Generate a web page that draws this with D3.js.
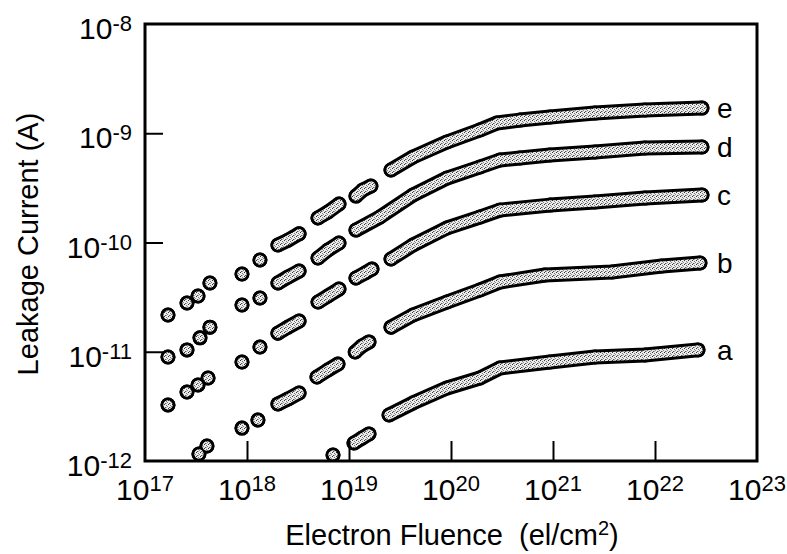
<!DOCTYPE html>
<html lang="en">
<head>
  <meta charset="UTF-8">
  <title>Leakage Current vs Electron Fluence</title>
  <style>
    html,
    body {
      margin: 0;
      background: #fff;
    }

    svg {
      display: block;
      font-family: 'Liberation Sans', Arial, Helvetica, sans-serif;
    }
  </style>
  <script src="https://cdn.jsdelivr.net/npm/d3@7"></script>
</head>
<body>
  <script>
    const width = 787
    const height = 554
    const margin = { left: 145, right: 30, top: 24, bottom: 93 }

    // tick decades
    const xTickExp = [17, 18, 19, 20, 21, 22, 23]
    const yTickExp = [-8, -9, -10, -11, -12]

    // curves: [fluence el/cm2, current A], null = gap between runs of points
    const curveA = [
      [6.97e18, 1.135e-12], null,
      [1.12e19, 1.46e-12], [1.34e19, 1.62e-12], [1.57e19, 1.77e-12], null,
      [2.47e19, 2.64e-12], [4.24e19, 3.40e-12], [9.14e19, 4.66e-12], [1.92e20, 5.75e-12], [3.02e20, 7.10e-12],
      [9.35e20, 8.05e-12], [2.58e21, 8.95e-12], [7.98e21, 9.34e-12], [2.64e22, 1.04e-11]
    ]
    const curveB = [
      [3.38e17, 1.16e-12], null,
      [4.05e17, 1.37e-12], null,
      [8.93e17, 2.00e-12], null,
      [1.28e18, 2.37e-12], null,
      [2.01e18, 3.33e-12], [2.52e18, 3.69e-12], [3.24e18, 4.19e-12], null,
      [4.85e18, 5.87e-12], [6.22e18, 6.81e-12], [7.80e18, 7.72e-12], null,
      [1.15e19, 9.95e-12], [1.34e19, 1.13e-11], [1.57e19, 1.23e-11], null,
      [2.58e19, 1.68e-11], [4.24e19, 2.17e-11], [9.14e19, 2.85e-11], [1.92e20, 3.67e-11], [3.02e20, 4.35e-11],
      [8.36e20, 5.04e-11], [3.78e21, 5.37e-11], [1.17e22, 6.09e-11], [2.76e22, 6.49e-11]
    ]
    const curveC = [
      [1.68e17, 3.26e-12], null,
      [2.58e17, 4.28e-12], null,
      [3.31e17, 4.96e-12], null,
      [4.15e17, 5.75e-12], null,
      [8.93e17, 8.05e-12], null,
      [1.34e18, 1.105e-11], null,
      [2.01e18, 1.48e-11], [2.52e18, 1.68e-11], [3.24e18, 1.91e-11], null,
      [4.97e18, 2.85e-11], [6.22e18, 3.24e-11], [7.98e18, 3.75e-11], null,
      [1.17e19, 4.73e-11], [1.44e19, 5.26e-11], [1.68e19, 5.72e-11], null,
      [2.58e19, 7.06e-11], [4.24e19, 9.49e-11], [9.14e19, 1.36e-10], [1.92e20, 1.71e-10], [3.02e20, 1.98e-10],
      [9.35e20, 2.20e-10], [2.58e21, 2.35e-10], [7.98e21, 2.55e-10], [2.89e22, 2.72e-10]
    ]
    const curveD = [
      [1.68e17, 8.95e-12], null,
      [2.58e17, 1.04e-11], null,
      [3.46e17, 1.34e-11], null,
      [4.33e17, 1.68e-11], null,
      [8.93e17, 2.68e-11], null,
      [1.34e18, 3.10e-11], null,
      [2.01e18, 4.26e-11], [2.52e18, 4.83e-11], [3.24e18, 5.48e-11], null,
      [4.97e18, 7.21e-11], [6.22e18, 8.54e-11], [7.98e18, 9.89e-11], null,
      [1.17e19, 1.30e-10], [2.01e19, 1.71e-10], [4.24e19, 2.72e-10], [9.14e19, 3.89e-10], [1.92e20, 4.91e-10],
      [3.02e20, 5.69e-10], [4.74e20, 5.93e-10], [9.35e20, 6.32e-10], [2.58e21, 6.73e-10], [7.98e21, 7.33e-10],
      [2.89e22, 7.48e-10]
    ]
    const curveE = [
      [1.68e17, 2.17e-11], null,
      [2.58e17, 2.79e-11], null,
      [3.31e17, 3.24e-11], null,
      [4.33e17, 4.26e-11], null,
      [8.93e17, 5.15e-11], null,
      [1.34e18, 6.92e-11], null,
      [2.01e18, 9.49e-11], [2.52e18, 1.05e-10], [3.24e18, 1.20e-10], null,
      [4.97e18, 1.68e-10], [6.22e18, 1.90e-10], [7.98e18, 2.25e-10], null,
      [1.17e19, 2.66e-10], [1.37e19, 3.03e-10], [1.64e19, 3.29e-10], null,
      [2.58e19, 4.61e-10], [4.24e19, 6.06e-10], [9.14e19, 8.32e-10], [1.92e20, 1.07e-9], [2.82e20, 1.24e-9],
      [4.74e20, 1.32e-9], [9.35e20, 1.41e-9], [2.58e21, 1.53e-9], [7.98e21, 1.63e-9], [2.89e22, 1.70e-9]
    ]
    const curveNames = ['a', 'b', 'c', 'd', 'e']
    const curves = [curveA, curveB, curveC, curveD, curveE]

    const svg = d3.select('body').append('svg')
      .attr('width', width)
      .attr('height', height)

    const innerW = width - margin.left - margin.right
    const innerH = height - margin.top - margin.bottom

    const xScale = d3.scaleLog().domain([1e17, 1e23]).range([margin.left, margin.left + innerW])
    const yScale = d3.scaleLog().domain([1e-12, 1e-8]).range([margin.top + innerH, margin.top])

    // speckled fill used inside the markers
    const defs = svg.append('defs')
    const pat = defs.append('pattern')
      .attr('id', 'speck')
      .attr('patternUnits', 'userSpaceOnUse')
      .attr('width', 4).attr('height', 4)
    pat.append('rect').attr('width', 4).attr('height', 4).attr('fill', '#ececec')
    const specks = [[0, 0, '#333'], [2, 1, '#777'], [1, 3, '#555'], [3, 2, '#8a8a8a'], [2, 3, '#aaa']]
    specks.forEach(s => pat.append('rect').attr('x', s[0]).attr('y', s[1])
      .attr('width', 1).attr('height', 1).attr('fill', s[2]))

    defs.append('clipPath').attr('id', 'plotClip')
      .append('rect')
      .attr('x', margin.left).attr('y', margin.top)
      .attr('width', innerW).attr('height', innerH)

    const line = d3.line()
      .defined(d => d)
      .x(d => xScale(d[0]))
      .y(d => yScale(d[1]))

    const plot = svg.append('g').attr('clip-path', 'url(#plotClip)')

    curves.forEach(curve => {
      const pts = curve.filter(d => d)
      const g = plot.append('g')
      // black outline
      g.append('path')
        .attr('d', line(curve))
        .attr('fill', 'none')
        .attr('stroke', '#000')
        .attr('stroke-width', 15)
        .attr('stroke-linecap', 'round')
        .attr('stroke-linejoin', 'round')
      g.selectAll('.outer').data(pts).enter().append('circle')
        .attr('cx', d => xScale(d[0]))
        .attr('cy', d => yScale(d[1]))
        .attr('r', 7.5)
        .attr('fill', '#000')
      // speckled inside
      g.append('path')
        .attr('d', line(curve))
        .attr('fill', 'none')
        .attr('stroke', 'url(#speck)')
        .attr('stroke-width', 9)
        .attr('stroke-linecap', 'round')
        .attr('stroke-linejoin', 'round')
      g.selectAll('.inner').data(pts).enter().append('circle')
        .attr('cx', d => xScale(d[0]))
        .attr('cy', d => yScale(d[1]))
        .attr('r', 4.5)
        .attr('fill', 'url(#speck)')
    })

    // curve letters
    curves.forEach((curve, i) => {
      const last = curve[curve.length - 1]
      svg.append('text')
        .attr('x', 717)
        .attr('y', yScale(last[1]) + 10)
        .attr('font-size', 28)
        .text(curveNames[i])
    })

    // inward ticks
    const xAxis = d3.axisBottom(xScale)
      .tickValues(xTickExp.slice(1, -1).map(e => Math.pow(10, e)))
      .tickSize(-20)
      .tickFormat('')
    const gx = svg.append('g')
      .attr('transform', `translate(0, ${margin.top + innerH})`)
      .call(xAxis)
    gx.select('.domain').remove()
    gx.selectAll('line').attr('stroke-width', 2)

    const yAxis = d3.axisLeft(yScale)
      .tickValues(yTickExp.slice(1, -1).map(e => Math.pow(10, e)))
      .tickSize(-18)
      .tickFormat('')
    const gy = svg.append('g')
      .attr('transform', `translate(${margin.left}, 0)`)
      .call(yAxis)
    gy.select('.domain').remove()
    gy.selectAll('line').attr('stroke-width', 2)

    // frame
    svg.append('rect')
      .attr('x', margin.left).attr('y', margin.top)
      .attr('width', innerW).attr('height', innerH)
      .attr('fill', 'none')
      .attr('stroke', '#000')
      .attr('stroke-width', 3)

    // tick labels 10^n
    xTickExp.forEach(e => {
      const t = svg.append('text')
        .attr('x', xScale(Math.pow(10, e)))
        .attr('y', 500)
        .attr('text-anchor', 'middle')
        .attr('font-size', 30)
      t.append('tspan').text('10')
      t.append('tspan').attr('font-size', 22).attr('dy', -9).text(e)
    })
    yTickExp.forEach(e => {
      const t = svg.append('text')
        .attr('x', 132)
        .attr('y', yScale(Math.pow(10, e)) + 15)
        .attr('text-anchor', 'end')
        .attr('font-size', 30)
      t.append('tspan').text('10')
      t.append('tspan').attr('font-size', 22).attr('dy', -8).text(e)
    })

    // axis titles
    const xt = svg.append('text')
      .attr('x', 452)
      .attr('y', 545)
      .attr('text-anchor', 'middle')
      .attr('font-size', 29)
      .style('white-space', 'pre')
    xt.append('tspan').text('Electron Fluence  (el/cm')
    xt.append('tspan').attr('font-size', 20).attr('dy', -10).text('2')
    xt.append('tspan').attr('dy', 10).text(')')

    svg.append('text')
      .attr('transform', 'translate(38, 244) rotate(-90)')
      .attr('text-anchor', 'middle')
      .attr('font-size', 29)
      .text('Leakage Current (A)')
  </script>
</body>
</html>
